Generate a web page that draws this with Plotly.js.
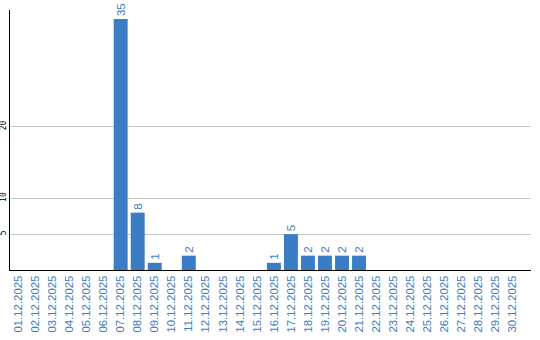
<!DOCTYPE html>
<html>
<head>
<meta charset="utf-8">
<script src="https://cdn.plot.ly/plotly-3.0.1.min.js"></script>
<style>html,body{margin:0;padding:0;background:#fff;}#chart{width:540px;height:340px;}</style>
</head>
<body>
<div id="chart"></div>
<script>
const dates = ["01.12.2025","02.12.2025","03.12.2025","04.12.2025","05.12.2025","06.12.2025","07.12.2025","08.12.2025","09.12.2025","10.12.2025","11.12.2025","12.12.2025","13.12.2025","14.12.2025","15.12.2025","16.12.2025","17.12.2025","18.12.2025","19.12.2025","20.12.2025","21.12.2025","22.12.2025","23.12.2025","24.12.2025","25.12.2025","26.12.2025","27.12.2025","28.12.2025","29.12.2025","30.12.2025"];
const counts = [0,0,0,0,0,0,35,8,1,0,2,0,0,0,0,1,5,2,2,2,2,0,0,0,0,0,0,0,0,0];
const yTickVals = [5,10,20];
const yTickText = ["5","10","20"];

const blue = "rgb(59,125,196)";
const labels = counts.map(v => v > 0 ? String(v) : "");

Plotly.newPlot("chart", [{
  type: "bar",
  x: dates,
  y: counts,
  marker: {color: blue},
  text: labels,
  textposition: "outside",
  textangle: -90,
  constraintext: "none",
  cliponaxis: false,
  textfont: {family: "Liberation Sans, Arial, sans-serif", size: 11.5, color: blue},
  hoverinfo: "none"
}], {
  width: 540, height: 340,
  margin: {l: 10, r: 9, t: 10, b: 70},
  paper_bgcolor: "#fff", plot_bgcolor: "#fff",
  bargap: 0.18,
  showlegend: false,
  xaxis: {
    type: "category",
    range: [-0.5, 30.1],
    tickangle: -90,
    tickfont: {family: "Liberation Sans, Arial, sans-serif", size: 11.4, color: blue},
    showline: true, linecolor: "#000", linewidth: 1,
    showgrid: false, ticks: "", zeroline: false
  },
  yaxis: {
    range: [0, 36.26],
    tickvals: yTickVals, ticktext: yTickText,
    tickangle: -90,
    tickfont: {family: "DejaVu Sans Mono, monospace", size: 8, color: "#000"},
    showline: true, linecolor: "#000", linewidth: 1,
    showgrid: true, gridcolor: "#c8c8c8", gridwidth: 1,
    zeroline: false, ticks: "", ticklabelstandoff: 0
  }
}, {staticPlot: true});
</script>
</body>
</html>
